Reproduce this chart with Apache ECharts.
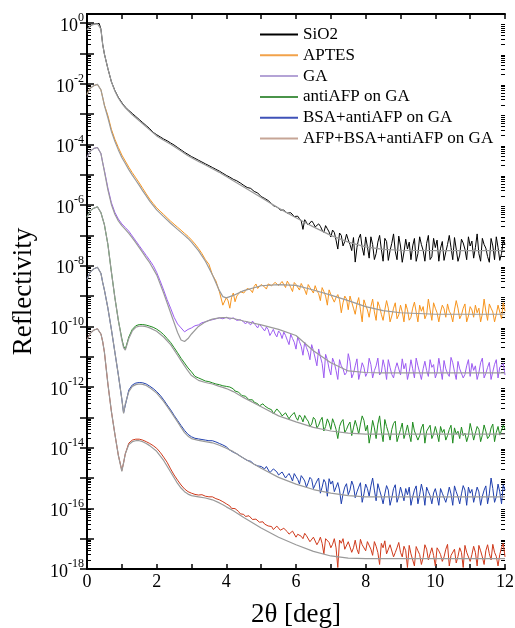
<!DOCTYPE html>
<html>
<head>
<meta charset="utf-8">
<title>Reflectivity</title>
<script src="https://cdn.jsdelivr.net/npm/echarts@6/dist/echarts.min.js"></script>
<style>
  html, body { margin: 0; padding: 0; background: #fff; }
  #chart { width: 515px; height: 628px; }
</style>
</head>
<body>
<div id="chart"></div>
<script>
// measured curves, 2θ [deg]
const theta = [
  0, 0.05, 0.1, 0.15, 0.2, 0.25, 0.3, 0.35, 0.4, 0.45,
  0.5, 0.6, 0.7, 0.8, 0.9, 1.0, 1.05,
  1.1, 1.2, 1.3, 1.4, 1.5, 1.6, 1.7, 1.8, 1.9, 2.0,
  2.1, 2.2, 2.3, 2.4, 2.5, 2.6, 2.7, 2.8, 2.9, 3.0,
  3.1, 3.2, 3.3, 3.4, 3.5, 3.6, 3.7, 3.8, 3.9, 4.0,
  4.05, 4.1, 4.15, 4.2, 4.25, 4.3, 4.35, 4.4, 4.45, 4.5, 4.55, 4.6, 4.65, 4.7, 4.75, 4.8, 4.85, 4.9, 4.95, 5.0,
  5.05, 5.1, 5.15, 5.2, 5.25, 5.3, 5.35, 5.4, 5.45, 5.5, 5.55, 5.6, 5.65, 5.7, 5.75, 5.8, 5.85, 5.9, 5.95, 6.0,
  6.05, 6.1, 6.15, 6.2, 6.25, 6.3, 6.35, 6.4, 6.45, 6.5, 6.55, 6.6, 6.65, 6.7, 6.75, 6.8, 6.85, 6.9, 6.95, 7.0,
  7.05, 7.1, 7.15, 7.2, 7.25, 7.3, 7.35, 7.4, 7.45, 7.5, 7.55, 7.6, 7.65, 7.7, 7.75, 7.8, 7.85, 7.9, 7.95, 8.0,
  8.05, 8.1, 8.15, 8.2, 8.25, 8.3, 8.35, 8.4, 8.45, 8.5, 8.55, 8.6, 8.65, 8.7, 8.75, 8.8, 8.85, 8.9, 8.95, 9.0,
  9.05, 9.1, 9.15, 9.2, 9.25, 9.3, 9.35, 9.4, 9.45, 9.5, 9.55, 9.6, 9.65, 9.7, 9.75, 9.8, 9.85, 9.9, 9.95, 10.0,
  10.05, 10.1, 10.15, 10.2, 10.25, 10.3, 10.35, 10.4, 10.45, 10.5, 10.55, 10.6, 10.65, 10.7, 10.75, 10.8, 10.85, 10.9, 10.95, 11.0,
  11.05, 11.1, 11.15, 11.2, 11.25, 11.3, 11.35, 11.4, 11.45, 11.5, 11.55, 11.6, 11.65, 11.7, 11.75, 11.8, 11.85, 11.9, 11.95, 12.0
];

const sio2 = [
  0.603, 0.741, 0.832, 0.891, 0.933, 0.955, 0.977, 0.977, 0.631, 0.2,
  9.55e-2, 3.16e-2, 1.17e-2, 6.03e-3, 3.55e-3, 2.4e-3, 2.0e-3,
  1.7e-3, 1.32e-3, 1.05e-3, 8.32e-4, 6.61e-4, 5.25e-4, 4.17e-4, 3.31e-4, 2.51e-4, 2.09e-4,
  1.78e-4, 1.51e-4, 1.32e-4, 1.12e-4, 9.55e-5, 7.94e-5, 6.61e-5, 5.5e-5, 4.68e-5, 3.98e-5,
  3.47e-5, 3.02e-5, 2.63e-5, 2.29e-5, 2.0e-5, 1.74e-5, 1.51e-5, 1.32e-5, 1.12e-5, 9.55e-6,
  9.0e-6, 8.32e-6, 7.6e-6, 7.08e-6, 6.9e-6, 6.31e-6, 5.6e-6, 5.37e-6, 5.0e-6, 4.47e-6, 4.2e-6, 3.8e-6, 3.4e-6, 3.55e-6, 3.3e-6, 2.82e-6, 2.5e-6, 2.51e-6, 2.3e-6, 1.91e-6,
  1.8e-6, 1.66e-6, 1.5e-6, 1.41e-6, 1.3e-6, 1.12e-6, 9.5e-7, 8.91e-7, 8.7e-7, 7.94e-7, 6.9e-7, 7.08e-7, 6.8e-7, 6.31e-7, 5.4e-7, 5.25e-7, 5.6e-7, 5.01e-7, 4.2e-7, 3.98e-7,
  4.3e-7, 3.55e-7, 3.0e-7, 1.58e-7, 3.3e-7, 3.16e-7, 2.2e-7, 2.4e-7, 3.0e-7, 2.51e-7, 1.9e-7, 1.78e-7, 2.4e-7, 2.0e-7, 1.5e-7, 1.26e-7, 2.1e-7, 1.66e-7, 1.3e-7, 8.91e-8,
  1.5e-7, 1.26e-7, 7.0e-8, 3.55e-8, 1.2e-7, 1.0e-7, 4.5e-8, 6.31e-8, 1.1e-7, 7.08e-8, 5.0e-8, 3.16e-8, 8.5e-8, 1.32e-8, 4.0e-8, 7.94e-8, 1.1e-7, 3.98e-8, 2.2e-8, 8.91e-8,
  4.2e-8, 1.78e-8, 9.0e-8, 5.01e-8, 1.6e-8, 2.51e-8, 6.0e-8, 1.0e-7, 3.5e-8, 1.41e-8, 8.0e-8, 6.31e-8, 1.5e-8, 3.16e-8, 5.5e-8, 1.12e-7, 3.0e-8, 1.58e-8, 9.5e-8, 4.47e-8,
  1.3e-8, 2.82e-8, 7.5e-8, 3.55e-8, 6.0e-8, 1.58e-8, 4.5e-8, 7.94e-8, 1.4e-8, 2.51e-8, 9.0e-8, 5.01e-8, 3.2e-8, 1.41e-8, 5.5e-8, 1.0e-7, 1.6e-8, 2.0e-8, 8.0e-8, 3.98e-8,
  7.0e-8, 1.41e-8, 3.8e-8, 6.31e-8, 1.5e-8, 2.82e-8, 5.0e-8, 1.0e-7, 4.0e-8, 1.58e-8, 8.5e-8, 3.55e-8, 1.4e-8, 2.24e-8, 7.5e-8, 5.62e-8, 3.5e-8, 1.58e-8, 9.0e-8, 4.47e-8,
  6.5e-8, 1.78e-8, 4.0e-8, 1.12e-7, 2.5e-8, 1.41e-8, 8.0e-8, 5.01e-8, 3.8e-8, 2.0e-8, 1.3e-8, 7.94e-8, 4.5e-8, 1.58e-8, 9.0e-8, 3.98e-8, 1.5e-8, 2.51e-8, 7.0e-8, 5.01e-8
];

const aptes = [
  4.47e-3, 6.03e-3, 7.24e-3, 8.13e-3, 8.71e-3, 9.12e-3, 9.55e-3, 9.55e-3, 6.31e-3, 3.55e-3,
  2.0e-3, 8.91e-4, 3.16e-4, 1.48e-4, 7.94e-5, 4.47e-5, 3.55e-5,
  2.82e-5, 1.78e-5, 1.17e-5, 7.94e-6, 5.37e-6, 3.55e-6, 2.34e-6, 1.58e-6, 1.12e-6, 8.13e-7,
  6.31e-7, 4.9e-7, 3.8e-7, 2.95e-7, 2.34e-7, 1.86e-7, 1.48e-7, 1.17e-7, 9.33e-8, 7.08e-8,
  5.25e-8, 3.72e-8, 2.51e-8, 1.58e-8, 1.12e-8, 5.01e-9, 3.16e-9, 1.41e-9, 5.01e-10, 8.91e-10,
  7.0e-10, 3.98e-10, 9.0e-10, 1.26e-9, 6.5e-10, 1.0e-9, 1.1e-9, 1.41e-9, 1.6e-9, 1.26e-9, 1.1e-9, 1.78e-9, 2.0e-9, 1.58e-9, 1.3e-9, 2.09e-9, 2.5e-9, 1.78e-9, 1.6e-9, 2.4e-9,
  2.7e-9, 2.0e-9, 1.7e-9, 2.51e-9, 2.9e-9, 2.19e-9, 1.9e-9, 2.82e-9, 3.2e-9, 2.24e-9, 2.0e-9, 3.02e-9, 2.7e-9, 1.91e-9, 3.1e-9, 2.51e-9, 1.9e-9, 1.41e-9, 2.8e-9, 2.4e-9,
  2.2e-9, 1.58e-9, 2.6e-9, 2.0e-9, 1.6e-9, 1.12e-9, 2.4e-9, 1.91e-9, 1.7e-9, 1.26e-9, 2.2e-9, 1.51e-9, 1.2e-9, 7.08e-10, 1.9e-9, 1.41e-9, 1.0e-9, 5.01e-10, 1.6e-9, 1.12e-9,
  1.3e-9, 6.31e-10, 9.0e-10, 1.12e-9, 7.5e-10, 2.82e-10, 6.0e-10, 1.0e-9, 8.0e-10, 3.55e-10, 1.0e-9, 6.31e-10, 4.0e-10, 2.51e-10, 5.5e-10, 8.91e-10, 3.5e-10, 1.41e-10, 7.5e-10, 5.01e-10,
  3.5e-10, 2.0e-10, 4.5e-10, 7.94e-10, 3.0e-10, 1.58e-10, 6.5e-10, 4.47e-10, 2.5e-10, 1.58e-10, 3.5e-10, 7.08e-10, 4.0e-10, 1.41e-10, 2.2e-10, 3.98e-10, 6.0e-10, 1.78e-10, 2.4e-10, 5.01e-10,
  3.0e-10, 1.41e-10, 5.5e-10, 3.55e-10, 1.6e-10, 2.0e-10, 4.0e-10, 6.31e-10, 3.0e-10, 1.41e-10, 5.0e-10, 3.16e-10, 4.5e-10, 1.78e-10, 2.5e-10, 7.94e-10, 3.5e-10, 1.58e-10, 6.0e-10, 3.98e-10,
  2.8e-10, 1.41e-10, 3.0e-10, 5.01e-10, 3.8e-10, 2.0e-10, 5.5e-10, 3.16e-10, 2.5e-10, 1.41e-10, 3.5e-10, 7.08e-10, 4.0e-10, 1.78e-10, 2.4e-10, 3.98e-10, 5.5e-10, 1.41e-10, 2.2e-10, 4.47e-10,
  3.5e-10, 2.0e-10, 5.0e-10, 2.82e-10, 4.0e-10, 1.41e-10, 2.6e-10, 7.94e-10, 3.2e-10, 1.58e-10, 5.5e-10, 3.98e-10, 3.0e-10, 1.41e-10, 2.5e-10, 5.01e-10, 4.5e-10, 1.78e-10, 6.0e-10, 3.16e-10
];

const ga = [
  3.72e-5, 5.01e-5, 6.03e-5, 6.76e-5, 7.41e-5, 7.76e-5, 7.94e-5, 7.94e-5, 5.01e-5, 2.51e-5,
  1.38e-5, 3.63e-6, 1.2e-6, 5.75e-7, 3.47e-7, 2.4e-7, 2.09e-7,
  1.82e-7, 1.38e-7, 9.55e-8, 6.61e-8, 4.57e-8, 3.16e-8, 2.19e-8, 1.51e-8, 1.02e-8, 6.03e-9,
  3.16e-9, 1.58e-9, 7.59e-10, 3.98e-10, 2.0e-10, 1.2e-10, 8.91e-11, 6.61e-11, 7.94e-11, 8.91e-11,
  1.05e-10, 1.12e-10, 1.32e-10, 1.41e-10, 1.58e-10, 1.66e-10, 1.78e-10, 1.91e-10, 1.78e-10, 2.0e-10,
  1.95e-10, 1.74e-10, 1.6e-10, 1.91e-10, 1.85e-10, 1.58e-10, 1.5e-10, 1.66e-10, 1.7e-10, 1.41e-10, 1.2e-10, 1.41e-10, 1.35e-10, 1.12e-10, 1.5e-10, 1.26e-10, 1.05e-10, 8.91e-11, 1.2e-10, 1.0e-10,
  9.0e-11, 7.08e-11, 9.5e-11, 7.94e-11, 5.0e-11, 6.31e-11, 8.0e-11, 5.62e-11, 4.5e-11, 7.08e-11, 6.0e-11, 3.98e-11, 6.5e-11, 5.01e-11, 3.5e-11, 2.51e-11, 5.5e-11, 3.98e-11, 3.0e-11, 1.78e-11,
  4.5e-11, 3.16e-11, 2.2e-11, 1.12e-11, 3.0e-11, 2.0e-11, 1.4e-11, 7.94e-12, 2.5e-11, 1.58e-11, 9.0e-12, 5.01e-12, 1.8e-11, 1.0e-11, 6.0e-12, 2.0e-12, 1.2e-11, 7.94e-12, 4.0e-12, 2.51e-12,
  9.0e-12, 6.31e-12, 3.5e-12, 1.78e-12, 8.0e-12, 5.01e-12, 4.0e-12, 2.51e-12, 3.0e-12, 1.26e-11, 7.0e-12, 2.0e-12, 2.8e-12, 5.01e-12, 8.5e-12, 1.78e-12, 3.2e-12, 6.31e-12, 4.5e-12, 2.24e-12,
  3.0e-12, 8.91e-12, 5.5e-12, 2.0e-12, 3.5e-12, 5.01e-12, 9.0e-12, 2.51e-12, 3.0e-12, 7.94e-12, 4.5e-12, 1.78e-12, 8.0e-12, 4.47e-12, 2.6e-12, 2.0e-12, 4.0e-12, 6.31e-12, 7.0e-12, 2.51e-12,
  8.5e-12, 3.98e-12, 6.0e-12, 1.78e-12, 3.2e-12, 7.94e-12, 4.0e-12, 2.0e-12, 9.0e-12, 5.01e-12, 3.0e-12, 1.78e-12, 4.0e-12, 7.08e-12, 3.5e-12, 2.24e-12, 8.0e-12, 4.47e-12, 5.5e-12, 2.0e-12,
  3.0e-12, 8.91e-12, 4.0e-12, 1.78e-12, 7.5e-12, 3.98e-12, 2.8e-12, 2.24e-12, 9.5e-12, 6.31e-12, 3.2e-12, 1.78e-12, 7.0e-12, 3.98e-12, 3.5e-12, 2.0e-12, 2.6e-12, 5.01e-12, 8.0e-12, 2.24e-12,
  6.0e-12, 3.55e-12, 5.0e-12, 1.78e-12, 3.0e-12, 6.31e-12, 9.0e-12, 2.0e-12, 2.8e-12, 4.47e-12, 6.5e-12, 1.78e-12, 3.2e-12, 5.62e-12, 8.0e-12, 2.0e-12, 4.5e-12, 3.98e-12, 6.0e-12, 2.51e-12
];

const antiAfp = [
  3.98e-7, 5.37e-7, 6.61e-7, 7.41e-7, 7.94e-7, 8.32e-7, 8.71e-7, 8.91e-7, 5.62e-7, 3.55e-7,
  2.24e-7, 5.01e-8, 6.31e-9, 8.91e-10, 1.58e-10, 3.98e-11, 2.24e-11,
  1.78e-11, 4.47e-11, 7.94e-11, 1.05e-10, 1.15e-10, 1.15e-10, 1.1e-10, 1.02e-10, 9.33e-11, 8.13e-11,
  6.76e-11, 5.37e-11, 3.98e-11, 2.95e-11, 2.0e-11, 1.35e-11, 8.91e-12, 6.17e-12, 4.27e-12, 3.16e-12,
  2.24e-12, 2.0e-12, 1.78e-12, 1.58e-12, 1.51e-12, 1.38e-12, 1.26e-12, 1.2e-12, 1.1e-12, 1.05e-12,
  9.5e-13, 1.0e-12, 9.8e-13, 8.71e-13, 7.4e-13, 7.08e-13, 6.8e-13, 6.03e-13, 5.2e-13, 5.25e-13, 5.0e-13, 4.47e-13, 3.8e-13, 3.98e-13, 3.8e-13, 3.16e-13, 2.9e-13, 2.82e-13, 2.4e-13, 2.63e-13,
  2.8e-13, 2.4e-13, 2.2e-13, 2.0e-13, 2.1e-13, 1.78e-13, 1.3e-13, 1.51e-13, 1.9e-13, 1.66e-13, 1.4e-13, 1.12e-13, 1.0e-13, 1.41e-13, 1.5e-13, 8.91e-14, 1.1e-13, 1.26e-13, 1.45e-13, 1.0e-13,
  8.0e-14, 1.2e-13, 1.0e-13, 7.08e-14, 1.15e-13, 8.91e-14, 7.5e-14, 5.01e-14, 6.0e-14, 1.0e-13, 8.5e-14, 4.47e-14, 5.5e-14, 7.94e-14, 1.0e-13, 3.55e-14, 5.0e-14, 8.91e-14, 6.5e-14, 3.98e-14,
  9.0e-14, 6.31e-14, 4.0e-14, 2.0e-14, 5.0e-14, 7.08e-14, 8.5e-14, 3.16e-14, 4.0e-14, 5.62e-14, 7.0e-14, 2.51e-14, 4.5e-14, 7.94e-14, 5.0e-14, 2.82e-14, 6.0e-14, 1.12e-13, 8.0e-14, 3.55e-14,
  5.5e-14, 1.41e-14, 3.0e-14, 7.94e-14, 4.5e-14, 2.0e-14, 6.0e-14, 1.12e-13, 3.5e-14, 1.58e-14, 8.5e-14, 5.01e-14, 3.2e-14, 1.78e-14, 4.0e-14, 6.31e-14, 7.5e-14, 1.58e-14, 2.5e-14, 3.98e-14,
  6.5e-14, 2.0e-14, 3.2e-14, 5.62e-14, 2.8e-14, 1.58e-14, 7.0e-14, 3.55e-14, 4.0e-14, 1.78e-14, 2.5e-14, 4.47e-14, 6.0e-14, 1.41e-14, 3.5e-14, 3.16e-14, 5.5e-14, 2.0e-14, 2.8e-14, 5.01e-14,
  3.0e-14, 1.58e-14, 5.0e-14, 3.16e-14, 4.0e-14, 1.78e-14, 2.5e-14, 3.98e-14, 5.5e-14, 1.41e-14, 4.5e-14, 2.82e-14, 3.5e-14, 2.0e-14, 4.8e-14, 2.51e-14, 3.0e-14, 1.58e-14, 2.5e-14, 6.31e-14,
  3.5e-14, 1.78e-14, 3.0e-14, 5.01e-14, 4.0e-14, 1.58e-14, 2.6e-14, 5.62e-14, 3.5e-14, 2.0e-14, 2.4e-14, 4.47e-14, 6.0e-14, 1.58e-14, 3.2e-14, 5.01e-14, 2.6e-14, 2.24e-14, 5.5e-14, 3.98e-14
];

const bsaAntiAfp = [
  3.55e-9, 5.01e-9, 6.31e-9, 7.24e-9, 7.94e-9, 8.51e-9, 8.91e-9, 9.12e-9, 5.62e-9, 2.82e-9,
  1.58e-9, 3.98e-10, 7.94e-11, 1.41e-11, 2.51e-12, 3.98e-13, 1.41e-13,
  2.51e-13, 7.94e-13, 1.17e-12, 1.35e-12, 1.41e-12, 1.38e-12, 1.26e-12, 1.07e-12, 8.91e-13, 7.08e-13,
  5.37e-13, 3.8e-13, 2.57e-13, 1.78e-13, 1.17e-13, 7.94e-14, 5.37e-14, 3.72e-14, 2.75e-14, 2.29e-14,
  2.04e-14, 1.95e-14, 1.86e-14, 1.78e-14, 1.7e-14, 1.7e-14, 1.55e-14, 1.38e-14, 1.23e-14, 1.07e-14,
  9.8e-15, 8.32e-15, 7.9e-15, 7.08e-15, 6.3e-15, 6.31e-15, 5.9e-15, 5.25e-15, 4.7e-15, 4.47e-15, 4.3e-15, 3.8e-15, 3.3e-15, 3.55e-15, 3.6e-15, 2.82e-15, 2.6e-15, 2.51e-15, 2.9e-15, 2.4e-15,
  2.2e-15, 2.0e-15, 2.4e-15, 2.09e-15, 1.5e-15, 1.66e-15, 2.0e-15, 1.91e-15, 1.6e-15, 1.26e-15, 1.2e-15, 1.58e-15, 1.7e-15, 1.0e-15, 1.2e-15, 1.41e-15, 1.1e-15, 7.94e-16, 1.4e-15, 1.12e-15,
  9.0e-16, 6.31e-16, 1.2e-15, 1.0e-15, 8.0e-16, 5.01e-16, 7.0e-16, 1.05e-15, 9.0e-16, 4.47e-16, 6.0e-16, 7.94e-16, 1.0e-15, 3.16e-16, 5.0e-16, 8.91e-16, 7.0e-16, 2.51e-16, 9.5e-16, 6.31e-16,
  8.0e-16, 3.55e-16, 5.0e-16, 7.08e-16, 4.0e-16, 1.41e-16, 3.0e-16, 5.01e-16, 6.5e-16, 2.82e-16, 4.0e-16, 7.94e-16, 5.5e-16, 2.24e-16, 3.5e-16, 5.01e-16, 7.0e-16, 1.58e-16, 3.0e-16, 6.31e-16,
  4.5e-16, 2.51e-16, 5.5e-16, 1.0e-15, 4.0e-16, 1.78e-16, 6.5e-16, 3.98e-16, 2.5e-16, 1.41e-16, 3.0e-16, 5.62e-16, 4.0e-16, 1.26e-16, 2.2e-16, 4.47e-16, 6.0e-16, 1.58e-16, 2.5e-16, 5.01e-16,
  3.0e-16, 1.78e-16, 4.5e-16, 2.82e-16, 5.0e-16, 1.26e-16, 2.4e-16, 3.98e-16, 5.5e-16, 1.41e-16, 2.8e-16, 6.31e-16, 3.5e-16, 1.26e-16, 5.0e-16, 3.55e-16, 2.6e-16, 1.41e-16, 3.2e-16, 4.47e-16,
  2.5e-16, 1.26e-16, 4.5e-16, 3.16e-16, 3.5e-16, 1.58e-16, 2.6e-16, 5.01e-16, 3.0e-16, 1.26e-16, 5.5e-16, 3.55e-16, 2.4e-16, 1.41e-16, 3.0e-16, 5.62e-16, 4.0e-16, 1.26e-16, 5.0e-16, 3.16e-16,
  4.2e-16, 1.58e-16, 2.8e-16, 5.01e-16, 3.5e-16, 1.26e-16, 2.5e-16, 3.98e-16, 5.5e-16, 1.41e-16, 3.0e-16, 1.0e-15, 4.5e-16, 1.58e-16, 2.4e-16, 6.31e-16, 3.5e-16, 1.41e-16, 6.0e-16, 3.98e-16
];

const afpBsaAntiAfp = [
  3.55e-11, 4.79e-11, 6.03e-11, 6.92e-11, 7.59e-11, 7.94e-11, 8.32e-11, 8.51e-11, 5.62e-11, 3.16e-11,
  1.41e-11, 1.26e-12, 1.58e-13, 2.82e-14, 5.62e-15, 1.78e-15, 3.16e-15,
  6.31e-15, 1.41e-14, 1.78e-14, 1.91e-14, 1.91e-14, 1.78e-14, 1.58e-14, 1.38e-14, 1.17e-14, 9.55e-15,
  7.08e-15, 4.9e-15, 3.31e-15, 2.0e-15, 1.26e-15, 8.51e-16, 5.89e-16, 4.37e-16, 3.55e-16, 3.16e-16,
  2.88e-16, 2.75e-16, 2.82e-16, 2.51e-16, 2.4e-16, 2.4e-16, 2.09e-16, 1.91e-16, 1.66e-16, 1.41e-16,
  1.35e-16, 1.2e-16, 1.0e-16, 1.05e-16, 9.8e-17, 8.91e-17, 7.9e-17, 6.61e-17, 6.9e-17, 6.31e-17, 5.4e-17, 5.25e-17, 5.7e-17, 5.01e-17, 4.3e-17, 4.17e-17, 4.4e-17, 3.8e-17, 3.5e-17, 3.31e-17,
  3.6e-17, 3.02e-17, 2.6e-17, 2.63e-17, 3.0e-17, 2.51e-17, 2.0e-17, 2.09e-17, 2.6e-17, 2.24e-17, 1.9e-17, 1.66e-17, 2.2e-17, 2.0e-17, 1.7e-17, 1.41e-17, 1.5e-17, 1.78e-17, 2.0e-17, 1.12e-17,
  1.4e-17, 1.51e-17, 1.2e-17, 1.0e-17, 1.5e-17, 1.26e-17, 1.1e-17, 7.94e-18, 9.0e-18, 1.12e-17, 1.3e-17, 6.31e-18, 8.0e-18, 1.12e-17, 7.0e-18, 3.16e-18, 1.0e-17, 8.91e-18, 7.5e-18, 5.01e-18,
  6.5e-18, 1.0e-17, 5.0e-18, 1.12e-18, 9.0e-18, 7.08e-18, 1.0e-17, 4.47e-18, 5.0e-18, 7.94e-18, 9.0e-18, 3.55e-18, 5.0e-18, 8.91e-18, 4.5e-18, 3.16e-18, 9.5e-18, 6.31e-18, 6.0e-18, 3.98e-18,
  8.0e-18, 7.08e-18, 4.5e-18, 2.82e-18, 8.0e-18, 5.62e-18, 3.5e-18, 1.41e-18, 7.0e-18, 5.01e-18, 8.5e-18, 3.16e-18, 3.0e-18, 6.31e-18, 6.5e-18, 2.51e-18, 3.5e-18, 5.01e-18, 7.5e-18, 3.55e-18,
  2.5e-18, 5.62e-18, 4.0e-18, 1.12e-18, 6.0e-18, 3.16e-18, 2.8e-18, 1.26e-18, 5.5e-18, 3.98e-18, 3.0e-18, 1.41e-18, 2.4e-18, 6.31e-18, 4.5e-18, 2.0e-18, 3.2e-18, 5.01e-18, 2.8e-18, 1.26e-18,
  5.0e-18, 3.98e-18, 3.0e-18, 1.78e-18, 2.5e-18, 4.47e-18, 6.5e-18, 1.26e-18, 2.8e-18, 3.16e-18, 4.5e-18, 1.58e-18, 2.6e-18, 5.01e-18, 3.5e-18, 1.12e-18, 6.0e-18, 3.55e-18, 4.0e-18, 1.78e-18,
  3.0e-18, 5.62e-18, 3.5e-18, 1.26e-18, 6.0e-18, 3.98e-18, 2.5e-18, 1.41e-18, 4.0e-18, 6.31e-18, 3.2e-18, 2.0e-18, 6.5e-18, 3.55e-18, 2.6e-18, 1.26e-18, 3.0e-18, 5.01e-18, 7.0e-18, 2.51e-18
];

// fitted model curves (gray)
const fitTheta = [
  0, 0.1, 0.2, 0.3, 0.35, 0.4, 0.45, 0.5,
  0.6, 0.7, 0.8, 0.9, 1.0, 1.05, 1.1, 1.2,
  1.3, 1.4, 1.5, 1.6, 1.7, 1.8, 2.0, 2.2,
  2.4, 2.6, 2.7, 2.8, 2.9, 3.0, 3.2, 3.4,
  3.6, 3.8, 3.9, 4.0, 4.2, 4.5, 5.0, 5.5,
  6.0, 6.5, 7.0, 7.5, 8.0, 8.5, 9.0, 10.0,
  11.0, 12.0
];
const sio2Fit = [
  0.603, 0.832, 0.912, 0.955, 0.955, 0.631, 0.2, 9.55e-2,
  3.16e-2, 1.17e-2, 5.75e-3, 3.39e-3, 2.24e-3, 1.91e-3, 1.62e-3, 1.23e-3,
  9.55e-4, 7.59e-4, 6.03e-4, 4.79e-4, 3.8e-4, 3.02e-4, 1.91e-4, 1.38e-4,
  1.02e-4, 7.24e-5, 6.03e-5, 5.01e-5, 4.27e-5, 3.63e-5, 2.75e-5, 2.09e-5,
  1.58e-5, 1.2e-5, 1.02e-5, 8.71e-6, 6.31e-6, 3.98e-6, 1.78e-6, 7.94e-7,
  3.8e-7, 1.91e-7, 1.0e-7, 6.03e-8, 4.17e-8, 3.47e-8, 3.24e-8, 3.16e-8,
  3.16e-8, 3.16e-8
];
const aptesFit = [
  4.47e-3, 7.24e-3, 8.71e-3, 9.55e-3, 9.55e-3, 6.31e-3, 3.55e-3, 1.91e-3,
  7.59e-4, 2.69e-4, 1.26e-4, 6.61e-5, 3.72e-5, 2.95e-5, 2.34e-5, 1.48e-5,
  9.77e-6, 6.61e-6, 4.47e-6, 2.95e-6, 2.0e-6, 1.35e-6, 6.92e-7, 4.17e-7,
  2.51e-7, 1.58e-7, 1.26e-7, 1.0e-7, 7.94e-8, 6.03e-8, 3.16e-8, 1.41e-8,
  5.01e-9, 1.51e-9, 9.55e-10, 8.71e-10, 1.05e-9, 1.51e-9, 2.19e-9, 2.4e-9,
  2.24e-9, 1.58e-9, 1.07e-9, 7.08e-10, 4.47e-10, 3.31e-10, 2.82e-10, 2.51e-10,
  2.51e-10, 2.51e-10
];
const gaFit = [
  3.72e-5, 6.03e-5, 7.41e-5, 7.94e-5, 7.94e-5, 5.01e-5, 2.51e-5, 1.26e-5,
  3.16e-6, 1.05e-6, 5.01e-7, 3.02e-7, 2.09e-7, 1.82e-7, 1.58e-7, 1.17e-7,
  8.32e-8, 5.75e-8, 3.98e-8, 2.69e-8, 1.82e-8, 1.26e-8, 5.01e-9, 1.26e-9,
  2.82e-10, 6.31e-11, 3.55e-11, 3.16e-11, 3.98e-11, 5.62e-11, 1.0e-10, 1.41e-10,
  1.74e-10, 1.91e-10, 1.95e-10, 1.95e-10, 1.82e-10, 1.51e-10, 1.12e-10, 7.94e-11,
  5.01e-11, 1.58e-11, 6.31e-12, 3.39e-12, 3.02e-12, 2.95e-12, 2.95e-12, 2.95e-12,
  2.95e-12, 2.95e-12
];
const antiAfpFit = [
  3.98e-7, 6.61e-7, 7.94e-7, 8.71e-7, 8.91e-7, 5.62e-7, 3.55e-7, 2.24e-7,
  5.01e-8, 6.31e-9, 8.91e-10, 1.58e-10, 3.55e-11, 2.0e-11, 1.66e-11, 3.98e-11,
  7.08e-11, 9.33e-11, 1.02e-10, 1.02e-10, 9.77e-11, 8.91e-11, 6.92e-11, 4.47e-11,
  2.51e-11, 1.12e-11, 7.41e-12, 5.01e-12, 3.39e-12, 2.4e-12, 1.66e-12, 1.41e-12,
  1.26e-12, 1.05e-12, 9.77e-13, 8.91e-13, 7.08e-13, 4.47e-13, 2.24e-13, 1.12e-13,
  7.08e-14, 4.68e-14, 3.55e-14, 3.02e-14, 2.82e-14, 2.82e-14, 2.82e-14, 2.82e-14,
  2.82e-14, 2.82e-14
];
const bsaAntiAfpFit = [
  3.55e-9, 6.31e-9, 7.94e-9, 8.91e-9, 9.12e-9, 5.62e-9, 2.82e-9, 1.58e-9,
  3.98e-10, 7.94e-11, 1.41e-11, 2.51e-12, 3.98e-13, 1.35e-13, 2.82e-13, 7.08e-13,
  1.05e-12, 1.2e-12, 1.26e-12, 1.23e-12, 1.12e-12, 9.55e-13, 6.31e-13, 3.39e-13,
  1.58e-13, 7.08e-14, 4.68e-14, 3.16e-14, 2.4e-14, 2.0e-14, 1.74e-14, 1.58e-14,
  1.45e-14, 1.2e-14, 1.07e-14, 9.55e-15, 7.41e-15, 4.47e-15, 2.09e-15, 1.05e-15,
  6.31e-16, 4.17e-16, 3.16e-16, 2.63e-16, 2.4e-16, 2.4e-16, 2.4e-16, 2.4e-16,
  2.4e-16, 2.4e-16
];
const afpBsaAntiAfpFit = [
  3.55e-11, 6.03e-11, 7.59e-11, 8.32e-11, 8.51e-11, 5.62e-11, 3.16e-11, 1.41e-11,
  1.26e-12, 1.58e-13, 2.82e-14, 5.62e-15, 1.66e-15, 3.16e-15, 6.31e-15, 1.26e-14,
  1.58e-14, 1.7e-14, 1.7e-14, 1.58e-14, 1.38e-14, 1.17e-14, 7.59e-15, 3.8e-15,
  1.58e-15, 6.61e-16, 4.68e-16, 3.55e-16, 2.95e-16, 2.63e-16, 2.4e-16, 2.19e-16,
  1.91e-16, 1.51e-16, 1.32e-16, 1.12e-16, 8.32e-17, 5.01e-17, 2.24e-17, 1.12e-17,
  6.31e-18, 3.8e-18, 2.69e-18, 2.29e-18, 2.19e-18, 2.19e-18, 2.19e-18, 2.19e-18,
  2.19e-18, 2.19e-18
];

const seriesNames = ['SiO2', 'APTES', 'GA', 'antiAFP on GA', 'BSA+antiAFP on GA', 'AFP+BSA+antiAFP on GA'];
const xLabelValues = [0, 2, 4, 6, 8, 10, 12];
const yLabelValues = [1, 1e-2, 1e-4, 1e-6, 1e-8, 1e-10, 1e-12, 1e-14, 1e-16, 1e-18];

const serif = '"Liberation Serif", "DejaVu Serif", serif';
const lineColors = ['#000000', '#f7941d', '#9d5cf2', '#1f8c1f', '#1f3fae', '#cf3a1c'];
const legendColors = ['#000000', '#f2a24a', '#b4a3d6', '#4a944a', '#3f52b8', '#c6a596'];
const fitColor = '#9a9a9a';

const dataSets = [sio2, aptes, ga, antiAfp, bsaAntiAfp, afpBsaAntiAfp];
const fitSets = [sio2Fit, aptesFit, gaFit, antiAfpFit, bsaAntiAfpFit, afpBsaAntiAfpFit];

// decade and sub-decade tick positions for the log axis
const majorTicks = [];
const minorTicks = [];
for (let e = -18; e <= 0; e++) {
  majorTicks.push(Math.pow(10, e));
  if (e < 0) {
    for (let k = 2; k <= 9; k++) minorTicks.push(k * Math.pow(10, e));
  }
}

const zip = (xs, ys) => xs.map((x, i) => [x, ys[i]]);

const series = [];
dataSets.forEach((ys, i) => {
  series.push({
    name: seriesNames[i],
    type: 'line',
    data: zip(theta, ys),
    showSymbol: false,
    symbol: 'none',
    silent: true,
    lineStyle: { color: lineColors[i], width: 1 },
    itemStyle: { color: lineColors[i] },
    z: 2
  });
});
fitSets.forEach((ys, i) => {
  series.push({
    name: 'fit ' + seriesNames[i],
    type: 'line',
    data: zip(fitTheta, ys),
    showSymbol: false,
    symbol: 'none',
    silent: true,
    lineStyle: { color: fitColor, width: 1.2 },
    itemStyle: { color: fitColor },
    z: 3
  });
});

const yBase = {
  type: 'log',
  logBase: 10,
  min: 1e-18,
  max: 2,
  splitLine: { show: false },
  axisLabel: { show: false }
};

const option = {
  animation: false,
  backgroundColor: '#ffffff',
  grid: { left: 87, right: 10, top: 14, bottom: 59, containLabel: false, outerBoundsMode: 'none' },
  legend: {
    orient: 'vertical',
    left: 260,
    top: 26,
    padding: 0,
    icon: 'rect',
    itemWidth: 38,
    itemHeight: 2,
    itemGap: 3.8,
    selectedMode: false,
    textStyle: { fontFamily: serif, fontSize: 17, color: '#000', lineHeight: 17 },
    data: seriesNames.map((n, i) => ({ name: n, itemStyle: { color: legendColors[i] } }))
  },
  xAxis: [
    {
      type: 'value',
      position: 'bottom',
      min: 0,
      max: 12,
      interval: 1,
      name: '2θ [deg]',
      nameLocation: 'middle',
      nameGap: 32,
      nameTextStyle: { fontFamily: serif, fontSize: 27, color: '#000' },
      axisLine: { lineStyle: { color: '#000', width: 2 } },
      axisTick: { inside: true, length: 5, lineStyle: { color: '#000', width: 1.5 } },
      axisLabel: {
        customValues: xLabelValues,
        margin: 4,
        fontFamily: serif,
        fontSize: 18,
        color: '#000'
      },
      splitLine: { show: false }
    },
    {
      type: 'value',
      position: 'top',
      min: 0,
      max: 12,
      interval: 1,
      axisLine: { lineStyle: { color: '#000', width: 2 } },
      axisTick: { inside: true, length: 5, lineStyle: { color: '#000', width: 1.5 } },
      axisLabel: { show: false },
      splitLine: { show: false }
    }
  ],
  yAxis: [
    Object.assign({}, yBase, {
      position: 'left',
      name: 'Reflectivity',
      nameLocation: 'middle',
      nameRotate: 90,
      nameGap: 50,
      nameTextStyle: { fontFamily: serif, fontSize: 27, color: '#000' },
      axisLine: { show: true, lineStyle: { color: '#000', width: 2 } },
      axisTick: { inside: true, length: 7, customValues: majorTicks, lineStyle: { color: '#000', width: 1.5 } },
      axisLabel: {
        show: true,
        customValues: yLabelValues,
        margin: 3,
        formatter: v => '{b|10}{s|' + Math.round(Math.log10(v)) + '}',
        rich: {
          b: { fontFamily: serif, fontSize: 18, color: '#000', padding: [6, 0, 0, 0] },
          s: { fontFamily: serif, fontSize: 12, color: '#000', padding: [0, 0, 10, 0] }
        }
      }
    }),
    Object.assign({}, yBase, {
      position: 'right',
      axisLine: { show: true, lineStyle: { color: '#000', width: 2 } },
      axisTick: { inside: true, length: 7, customValues: majorTicks, lineStyle: { color: '#000', width: 1.5 } }
    }),
    Object.assign({}, yBase, {
      position: 'left',
      axisLine: { show: false },
      axisTick: { show: true, inside: true, length: 4, customValues: minorTicks, lineStyle: { color: '#000', width: 1 } }
    }),
    Object.assign({}, yBase, {
      position: 'right',
      axisLine: { show: false },
      axisTick: { show: true, inside: true, length: 4, customValues: minorTicks, lineStyle: { color: '#000', width: 1 } }
    })
  ],
  series: series
};

const chart = echarts.init(document.getElementById('chart'), null, { renderer: 'canvas' });
chart.setOption(option);
</script>
</body>
</html>
